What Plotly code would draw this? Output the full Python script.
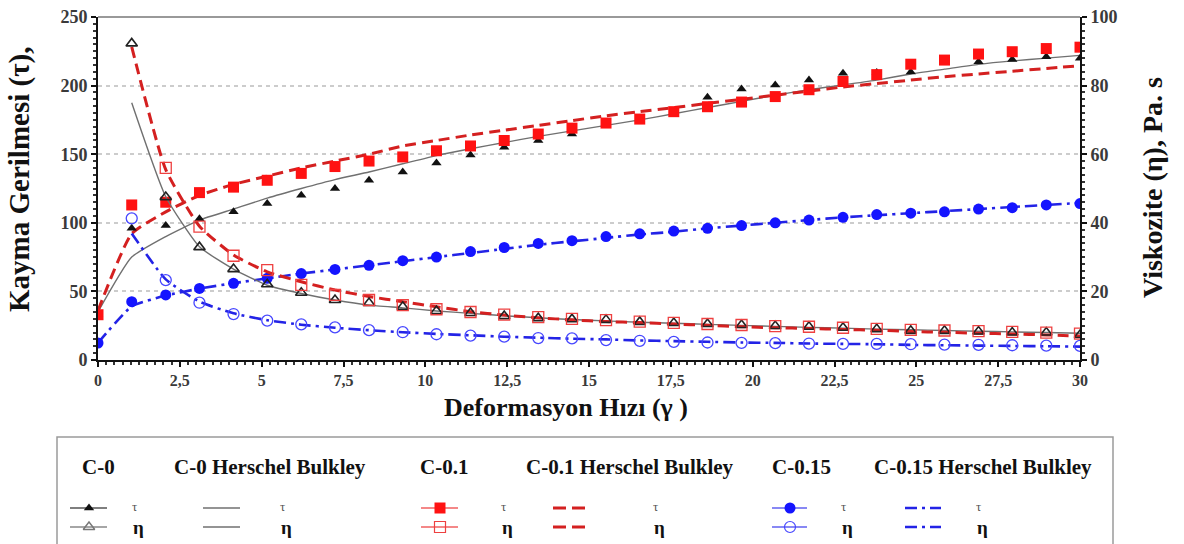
import plotly.graph_objects as go

# Shear rate (1/s) at which every sample was measured
shear = [0, 1.03, 2.07, 3.10, 4.14, 5.17, 6.21, 7.24, 8.28, 9.31, 10.34, 11.38,
         12.41, 13.45, 14.48, 15.52, 16.55, 17.59, 18.62, 19.66, 20.69, 21.72,
         22.76, 23.79, 24.83, 25.86, 26.90, 27.93, 28.97, 30.0]
shear_eta = shear[1:]

# C-0 : shear stress (Pa) and viscosity (Pa.s)
c0_tau = [33, 96, 98, 103, 108, 114, 120, 125, 131, 137, 143.6, 149.4, 155, 160,
          164.7, 172, 175.5, 180.5, 191.5, 197.5, 200.4, 204, 209, 209.5, 210, 217,
          217.4, 219, 221, 220]
c0_eta = [92.3, 47.5, 32.9, 26.5, 22.1, 19.6, 17.5, 16.6, 15.5, 14.3, 13.7, 12.8,
          12.2, 11.9, 11.7, 11.1, 10.8, 10.5, 10.2, 9.9, 9.7, 9.4, 9.0, 8.5, 8.5,
          8.3, 8.0, 8.0, 7.3]
c0_tau_hb = [35, 75, 90, 102, 110, 118, 125, 131.5, 137, 143, 149, 154, 158.5, 163,
             167, 171, 175, 179.5, 184, 188.5, 193, 197, 200.5, 204, 208.5, 212,
             215.5, 218, 220, 222]
c0_eta_hb = [75, 47.6, 33, 26.5, 21.8, 19.4, 17.5, 16, 15.2, 14.3, 13.6, 12.9, 12.3,
             11.8, 11.4, 11.0, 10.7, 10.4, 10.1, 9.8, 9.5, 9.3, 9.0, 8.8, 8.6, 8.4,
             8.2, 8.0, 7.8]

# C-0.1
c01_tau = [33, 113, 115, 122, 126, 131, 136, 141, 145, 148, 152.5, 156, 160, 164.7,
           169, 172.7, 175.6, 181, 184.6, 188, 192, 197, 203, 208, 215.6, 218.6, 223,
           224.7, 227, 228]
c01_eta = [None, 56, 38.9, 30.4, 26.2, 21.9, 19, 17.5, 16, 14.8, 14, 13.2, 12.5, 12,
           11.6, 11.2, 10.8, 10.5, 10.2, 9.9, 9.7, 9.4, 9.1, 8.8, 8.6, 8.4, 8.2, 8.0,
           7.7]
c01_tau_hb = [36, 92, 108, 120, 128, 134, 140, 145, 150, 156, 160, 164, 167.5, 171,
              174.5, 178, 181, 184, 187, 190, 193, 196, 199, 201.5, 204, 206.5, 208.5,
              210.5, 212.5, 214.5]
c01_eta_hb = [91.3, 55.5, 39, 30.6, 25.7, 22.8, 20.4, 18.5, 17, 15.5, 14.1, 13.1,
              12.3, 11.7, 11.2, 10.9, 10.5, 10.1, 9.7, 9.4, 9.2, 8.9, 8.7, 8.3, 8.1,
              7.8, 7.6, 7.3, 7.0]

# C-0.15
c015_tau = [12.4, 42.5, 47.4, 52.2, 55.9, 59.5, 63, 66, 69, 72.4, 75, 79, 82, 85, 87,
            90, 92, 94, 96, 98, 100, 102, 104, 106, 107, 108, 110, 111, 113, 114]
c015_eta = [41.3, 23.3, 16.7, 13.4, 11.5, 10.4, 9.5, 8.7, 8.1, 7.5, 7.1, 6.8, 6.4,
            6.3, 5.8, 5.6, 5.3, 5.1, 5.0, 4.9, 4.8, 4.7, 4.7, 4.6, 4.5, 4.4, 4.3, 4.2,
            4.1]
c015_tau_hb = [12.4, 39, 47, 52, 56, 59.5, 63, 66, 69, 72, 75, 78, 81, 84, 86.5, 89,
               91.5, 93.5, 96, 98, 100, 102, 104, 105.5, 107, 108.5, 110, 111.5, 113,
               114.5]
c015_eta_hb = [36.9, 23.5, 17, 13.6, 11.6, 10.3, 9.4, 8.7, 8.1, 7.6, 7.2, 6.8, 6.5,
               6.2, 6.0, 5.7, 5.5, 5.3, 5.1, 5.0, 4.8, 4.7, 4.6, 4.4, 4.3, 4.2, 4.1,
               4.0, 3.9]

x_ticks = [0, 2.5, 5, 7.5, 10, 12.5, 15, 17.5, 20, 22.5, 25, 27.5, 30]
x_ticktext = ["0", "2,5", "5", "7,5", "10", "12,5", "15", "17,5", "20", "22,5",
              "25", "27,5", "30"]

W, H = 1184, 544
SERIF = "Liberation Serif"
GREY = "#707070"
RED_LINE = "#d42020"
RED_MARK = "#ff1212"
RED_OPEN = "#ee4040"
BLUE_LINE = "#2323e6"
BLUE_MARK = "#1414ff"
BLUE_OPEN = "#4646ff"
RED_DASH = "11px,6px"
BLUE_DASH = "12px,5px,3px,5px"

fig = go.Figure()


def fit_line(x, y, color, width, dash, axis):
    fig.add_trace(go.Scatter(x=x, y=y, mode="lines", yaxis=axis, hoverinfo="skip",
                             line=dict(color=color, width=width, dash=dash,
                                       shape="spline", smoothing=0.5),
                             showlegend=False))


def points(x, y, symbol, color, size, axis, lw=0):
    fig.add_trace(go.Scatter(x=x, y=y, mode="markers", yaxis=axis,
                             marker=dict(symbol=symbol, color=color, size=size,
                                         line=dict(color=color, width=lw)),
                             showlegend=False))


# Herschel-Bulkley model curves
fit_line(shear, c0_tau_hb, GREY, 1.4, "solid", "y")
fit_line(shear_eta, c0_eta_hb, GREY, 1.4, "solid", "y2")
fit_line(shear, c01_tau_hb, RED_LINE, 3, RED_DASH, "y")
fit_line(shear_eta, c01_eta_hb, RED_LINE, 3, RED_DASH, "y2")
fit_line(shear, c015_tau_hb, BLUE_LINE, 2.6, BLUE_DASH, "y")
fit_line(shear_eta, c015_eta_hb, BLUE_LINE, 2.6, BLUE_DASH, "y2")

# Measured values
points(shear, c0_tau, "triangle-up", "#111111", 9, "y")
points(shear_eta, c0_eta, "triangle-up-open", "#222222", 10, "y2", 1.6)
points(shear, c01_tau, "square", RED_MARK, 11, "y")
points(shear_eta, c01_eta, "square-open", RED_OPEN, 11, "y2", 1.3)
points(shear, c015_tau, "circle", BLUE_MARK, 11, "y")
points(shear_eta, c015_eta, "circle-open", BLUE_OPEN, 11, "y2", 1.3)

# ---- legend panel under the chart (drawn on its own pixel-scaled axes) ----
ROW_T, ROW_E, HEAD = 508, 527, 467


def leg_line(x0, x1, y, color, width, dash="solid"):
    fig.add_trace(go.Scatter(x=[x0, x1], y=[y, y], mode="lines", xaxis="x3",
                             yaxis="y3", hoverinfo="skip", showlegend=False,
                             line=dict(color=color, width=width, dash=dash)))


def leg_mark(x, y, symbol, color, size, lw=0):
    fig.add_trace(go.Scatter(x=[x], y=[y], mode="markers", xaxis="x3", yaxis="y3",
                             hoverinfo="skip", showlegend=False,
                             marker=dict(symbol=symbol, color=color, size=size,
                                         line=dict(color=color, width=lw))))


leg_line(70, 107, ROW_T, "#555555", 1.3)
leg_mark(89, ROW_T, "triangle-up", "#111111", 9)
leg_line(70, 107, ROW_E, "#888888", 1.3)
leg_mark(89, ROW_E, "triangle-up-open", "#777777", 10, 1.4)

leg_line(203, 240, ROW_T, GREY, 1.4)
leg_line(203, 240, ROW_E, GREY, 1.4)

leg_line(421, 458, ROW_T, "#f06060", 1.3)
leg_mark(440, ROW_T, "square", RED_MARK, 11)
leg_line(421, 458, ROW_E, "#f06060", 1.3)
leg_mark(440, ROW_E, "square-open", RED_OPEN, 11, 1.2)

leg_line(553, 590, ROW_T, RED_LINE, 3, "13px,6px")
leg_line(553, 590, ROW_E, RED_LINE, 3, "13px,6px")

leg_line(772, 807, ROW_T, "#6060f0", 1.3)
leg_mark(790, ROW_T, "circle", BLUE_MARK, 11)
leg_line(772, 807, ROW_E, "#6060f0", 1.3)
leg_mark(790, ROW_E, "circle-open", BLUE_OPEN, 11, 1.2)

leg_line(905, 941, ROW_T, BLUE_LINE, 2.6, "12px,5px,3px,5px")
leg_line(905, 941, ROW_E, BLUE_LINE, 2.6, "12px,5px,3px,5px")

annotations = []
headers = [(80, "C-0"), (172, "C-0 Herschel Bulkley"), (418, "C-0.1"),
           (524, "C-0.1 Herschel Bulkley"), (770, "C-0.15"),
           (872, "C-0.15 Herschel Bulkley")]
for xh, txt in headers:
    annotations.append(dict(x=xh, y=HEAD, xref="x3", yref="y3", text=f"<b>{txt}</b>",
                            showarrow=False, xanchor="left", yanchor="middle",
                            font=dict(family=SERIF, size=21, color="#111111")))
for xs in [134, 282, 503, 655, 843, 978]:
    annotations.append(dict(x=xs, y=ROW_T - 2, xref="x3", yref="y3", text="τ",
                            showarrow=False, xanchor="center", yanchor="middle",
                            font=dict(family=SERIF, size=13, color="#555555")))
    annotations.append(dict(x=xs + 4, y=ROW_E, xref="x3", yref="y3", text="<b>η</b>",
                            showarrow=False, xanchor="center", yanchor="middle",
                            font=dict(family=SERIF, size=19, color="#111111")))

# axis titles
annotations.append(dict(x=20 / W, y=1 - 180 / H, xref="paper", yref="paper",
                        text="<b>Kayma Gerilmesi (τ),</b>", textangle=-90,
                        showarrow=False, xanchor="center", yanchor="middle",
                        font=dict(family=SERIF, size=29, color="#111111")))
annotations.append(dict(x=1152 / W, y=1 - 188 / H, xref="paper", yref="paper",
                        text="<b>Viskozite (η), Pa. s</b>", textangle=-90,
                        showarrow=False, xanchor="center", yanchor="middle",
                        font=dict(family=SERIF, size=28, color="#111111")))
annotations.append(dict(x=566 / W, y=1 - 407 / H, xref="paper", yref="paper",
                        text="<b>Deformasyon Hızı (γ )</b>", borderpad=0,
                        showarrow=False, xanchor="center", yanchor="middle",
                        font=dict(family=SERIF, size=26, color="#111111")))

y_tick_font = dict(family=SERIF, size=18, color="#3a3a3a", weight="bold")
x_tick_font = dict(family=SERIF, size=16, color="#3a3a3a", weight="bold")
X0, X1, YT, YB = 98, 1080, 17, 360

fig.update_layout(
    width=W, height=H,
    margin=dict(l=0, r=0, t=0, b=0, autoexpand=False),
    paper_bgcolor="white", plot_bgcolor="white",
    showlegend=False,
    xaxis=dict(domain=[X0 / W, X1 / W], range=[0, 30], anchor="y", automargin=False,
               tickvals=x_ticks, ticktext=x_ticktext, tickfont=x_tick_font,
               showline=True, linecolor="#111111", linewidth=2,
               ticks="outside", ticklen=5, tickcolor="#111111", tickwidth=1.5,
               minor=dict(dtick=0.25, ticklen=3, tickcolor="#333333", ticks="outside"),
               showgrid=False, zeroline=False, fixedrange=True),
    yaxis=dict(domain=[1 - YB / H, 1 - YT / H], range=[0, 250], dtick=50,
               automargin=False,
               tickfont=y_tick_font, showline=True, linecolor="#111111", linewidth=2,
               ticks="outside", ticklen=5, tickcolor="#111111", tickwidth=1.5,
               minor=dict(dtick=5, ticklen=3, tickcolor="#333333", ticks="outside"),
               showgrid=True, gridcolor="#cccccc", gridwidth=1.5, griddash="4px,4px",
               zeroline=False, fixedrange=True),
    yaxis2=dict(overlaying="y", side="right", anchor="x", range=[0, 100], dtick=20,
                automargin=False,
                tickfont=y_tick_font, showline=True, linecolor="#111111", linewidth=2,
                ticks="outside", ticklen=5, tickcolor="#111111", tickwidth=1.5,
                minor=dict(dtick=2, ticklen=3, tickcolor="#333333", ticks="outside"),
                showgrid=False, zeroline=False, fixedrange=True),
    xaxis3=dict(domain=[0, 1], range=[0, W], anchor="y3", visible=False,
                automargin=False, fixedrange=True),
    yaxis3=dict(domain=[0, (H - 436) / H], range=[H, 436], anchor="x3",
                visible=False, automargin=False, fixedrange=True),
    annotations=annotations,
    shapes=[
        # top frame of the plot
        dict(type="line", xref="paper", yref="paper", x0=X0 / W, x1=X1 / W,
             y0=1 - YT / H, y1=1 - YT / H, line=dict(color="#777777", width=1.5)),
        # legend frame
        dict(type="rect", xref="paper", yref="paper", x0=57 / W, x1=1113 / W,
             y0=-0.05, y1=1 - 437 / H, line=dict(color="#9a9a9a", width=1.5),
             layer="below"),
    ],
)

fig.write_html("out.html")
